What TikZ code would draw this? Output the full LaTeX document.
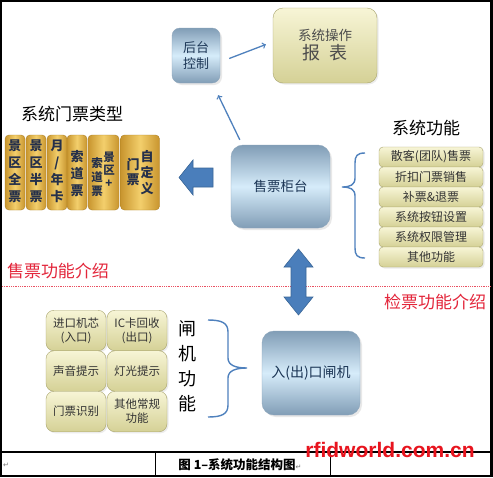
\documentclass[tikz,border=0pt]{standalone}
\usepackage{fontspec}
\setmainfont{Noto Sans CJK SC}
\newfontfamily\wmfont{Liberation Sans}
\newfontfamily\symfont{DejaVu Sans}
\usepackage{tikz}
\usetikzlibrary{shadows}
\usepackage{xcolor}
\definecolor{linkblue}{HTML}{4F81BD}
\definecolor{arrowblue}{HTML}{4A7EBB}
\definecolor{arrowedge}{HTML}{3B6798}
\definecolor{bluedark}{HTML}{819DB6}
\definecolor{bluelight}{HTML}{D6ECFA}
\definecolor{blueedge}{HTML}{8CA5BB}
\definecolor{navyink}{HTML}{1B3555}
\definecolor{khakitop}{HTML}{F7F5D6}
\definecolor{khakibot}{HTML}{D5D196}
\definecolor{khakiedge}{HTML}{A9A56E}
\definecolor{golddark}{HTML}{C8952E}
\definecolor{goldlight}{HTML}{F3CF6C}
\definecolor{goldedge}{HTML}{AE8126}
\definecolor{tkink}{HTML}{25304A}
\definecolor{titlered}{HTML}{E3263B}
\definecolor{wmred}{HTML}{E8141E}

\begin{document}
\begin{tikzpicture}[x=1pt,y=-1pt,
    bluebox/.style={rounded corners=10pt, draw=blueedge, top color=bluedark, bottom color=bluedark, middle color=bluelight,
      drop shadow={opacity=0.18, shadow xshift=2pt, shadow yshift=-2pt}, text=navyink, inner sep=0pt, align=center},
    khakibox/.style={rounded corners=4pt, draw=khakiedge, top color=khakitop, bottom color=khakibot,
      drop shadow={opacity=0.15, shadow xshift=1.5pt, shadow yshift=-1.5pt}, text=black!80, inner sep=0pt, align=center},
    goldbox/.style={rounded corners=4pt, draw=goldedge, left color=golddark, right color=golddark, middle color=goldlight,
      minimum height=75pt, inner sep=0pt},
    tktext/.style={align=center, inner sep=0pt, text=tkink, font=\fontsize{13}{17}\selectfont\bfseries},
    title/.style={inner sep=0pt, font=\fontsize{17}{20}\selectfont},
    conn/.style={->, draw=linkblue, line width=1.3pt},
    bigarrow/.style={fill=arrowblue, draw=arrowedge, line width=0.6pt},
    bracket/.style={draw=linkblue, line width=1.4pt}]
    \useasboundingbox (0,0) rectangle (493,477);
    \fill[white] (0,0) rectangle (493,477);
    % table frame and caption cell
    \draw[line width=2.5pt] (1,1) rectangle (491.5,476);
    \draw[line width=1.5pt] (1,452) -- (491.5,452);
    \draw[line width=0.8pt] (155,452) -- (155,476) (330,452) -- (330,476);
    \node[inner sep=0pt, text=black!55, font=\symfont\fontsize{7}{8}\selectfont] (mark) at (6,465) {↵};
    \node[inner sep=0pt, font=\fontsize{12.5}{14}\selectfont\bfseries] (caption) at (240,465) {图 1–系统功能结构图{\mdseries\symfont\fontsize{7}{8}\selectfont\color{black!55}↵}};

    % upper part: sales
    \node[bluebox, rounded corners=8pt, minimum width=48pt, minimum height=55pt, font=\fontsize{13}{16}\selectfont] (back) at (196,55.5) {后台\\控制};
    \node[khakibox, rounded corners=10pt, minimum width=104pt, minimum height=75pt, text=black!70,
          font=\fontsize{13.5}{19}\selectfont] (report) at (325,45.5) {系统操作\\{\fontsize{18}{20}\selectfont 报\hspace{0.5em}表}};
    \node[bluebox, rounded corners=12pt, minimum width=99pt, minimum height=83pt, font=\fontsize{13.5}{16}\selectfont] (sale) at (280.5,186.5) {售票柜台};
    \draw[conn] ([xshift=9pt,yshift=5pt]sale.north west) -- ([xshift=-2pt,yshift=-12pt]back.south east);
    \draw[conn] ([xshift=9pt,yshift=-3pt]back.east) -- ([xshift=-7pt,yshift=1pt]report.west);

    % ticket types
    \node[title] (typetitle) at (72,114) {系统门票类型};
    \foreach \cx/\w [count=\i] in {15/20pt, 36/20pt, 57/20pt, 77/20pt, 103.5/31pt, 140/39pt}
        \node[goldbox, minimum width=\w] (tk\i) at (\cx,172.5) {};
    \node[tktext] (t1) at (15,171.5) {景\\区\\全\\票};
    \node[tktext] (t2) at (36,171.5) {景\\区\\半\\票};
    \node[tktext] (t3) at (57,171.5) {月\\/\\年\\卡};
    \node[tktext] (t4) at (77,174) {索\\道\\票};
    \node[tktext, font=\fontsize{11.5}{13}\selectfont\bfseries] (t5a) at (109,170) {景\\区\\+};
    \node[tktext, font=\fontsize{11.5}{14}\selectfont\bfseries] (t5b) at (97,177.5) {索\\道\\票};
    \node[tktext, font=\fontsize{13}{16}\selectfont\bfseries] (t6a) at (147,172.5) {自\\定\\义};
    \node[tktext, font=\fontsize{13}{15}\selectfont\bfseries] (t6b) at (133,172.5) {门\\票};
    \fill[bigarrow] (179,177.5) -- (193,160) -- (193,168) -- (213,168) -- (213,187) -- (193,187) -- (193,195) -- cycle;

    % system functions
    \node[title] (functitle) at (426,128) {系统功能};
    \foreach \t [count=\i] in {散客(团队)售票, 折扣门票销售, 补票\&退票, 系统按钮设置, 系统权限管理, 其他功能}
        \node[khakibox, minimum width=104pt, minimum height=20pt, font=\fontsize{12}{14}\selectfont] (f\i) at (431,{137+20*\i}) {\t};
    \draw[bracket] (365,153) .. controls (357,153) and (355,156) .. (355,163) -- (355,178)
        .. controls (355,185) and (350,187) .. (342,187) .. controls (350,187) and (355,189) .. (355,196)
        -- (355,248) .. controls (355,255) and (357,258) .. (365,258);

    % divider
    \draw[titlered!80, densely dotted, line width=0.8pt] (2,286) -- (490,286);
    \node[title, text=titlered] (saleintro) at (58,271) {售票功能介绍};
    \node[title, text=titlered] (checkintro) at (435,302) {检票功能介绍};
    \fill[bigarrow] (298.5,249) -- (313,267) -- (306,267) -- (306,297) -- (313,297) -- (298.5,315)
        -- (284,297) -- (291,297) -- (291,267) -- (284,267) -- cycle;

    % lower part: gates
    \node[bluebox, rounded corners=12pt, minimum width=98pt, minimum height=84pt, font=\fontsize{14}{16}\selectfont] (gate) at (311,373) {入(出)口闸机};
    \foreach \cx/\cy/\t [count=\i] in {76/330.5/{进口机芯\\(入口)}, 137/330.5/{IC卡回收\\(出口)}, 76/371/声音提示,
                                      137/371/灯光提示, 76/411.5/门票识别, 137/411.5/{其他常规\\功能}}
        \node[khakibox, rounded corners=8pt, minimum width=60pt, minimum height=40.5pt, font=\fontsize{11.5}{14}\selectfont] (g\i) at (\cx,\cy) {\t};
    \node[inner sep=0pt, align=center, font=\fontsize{18}{25}\selectfont] (gatetitle) at (187,366) {闸\\机\\功\\能};
    \draw[bracket] (208,320) .. controls (222,320) and (228,323) .. (228,332) -- (228,358)
        .. controls (228,365) and (235,368) .. (247,368) .. controls (235,368) and (228,371) .. (228,378)
        -- (228,405) .. controls (228,414) and (222,417) .. (208,417);

    % watermark
    \node[anchor=base, inner sep=0pt, text=wmred, font=\wmfont\bfseries\fontsize{21}{24}\selectfont] (wm) at (390,457) {rfidworld.com.cn};
\end{tikzpicture}
\end{document}
